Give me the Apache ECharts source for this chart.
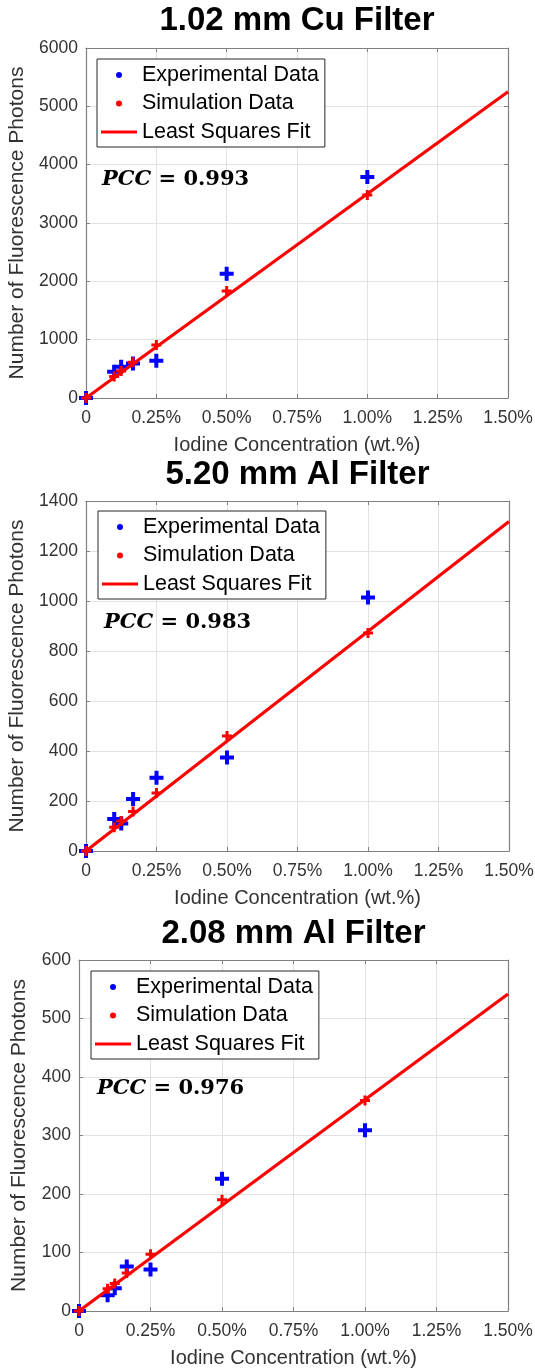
<!DOCTYPE html>
<html>
<head>
<meta charset="utf-8">
<script src="https://cdn.jsdelivr.net/npm/echarts@6/dist/echarts.min.js"></script>
<style>
  html, body { margin: 0; padding: 0; background: #fff; }
  #chart { width: 535px; height: 1369px; }
</style>
</head>
<body>
<div id="chart"></div>
<script>
// Iodine concentrations (wt.%) measured with every filter
const concentration = [0, 0.1, 0.125, 0.167, 0.25, 0.5, 1.0];

// 1.02 mm Cu filter
const cuExperimental = [0, 450, 537, 590, 640, 2130, 3790];
const cuSimulation   = [0, 370, 465, 615, 910, 1835, 3480];
const cuFitEnds      = [0, 5250];

// 5.20 mm Al filter
const al520Experimental = [0, 128, 110, 208, 293, 374, 1014];
const al520Simulation   = [0, 95, 120, 158, 232, 460, 872];
const al520FitEnds      = [0, 1318];

// 2.08 mm Al filter
const al208Experimental = [0, 27, 39, 76, 71, 226, 309];
const al208Simulation   = [0, 38, 47, 65, 97, 190, 360];
const al208FitEnds      = [0, 542];

// fitted line spans the whole x range
const fitRange = [0, 1.5];

const panelTitles = ['1.02 mm Cu Filter', '5.20 mm Al Filter', '2.08 mm Al Filter'];
const pccValues   = ['0.993', '0.983', '0.976'];
const yMaxima     = [6000, 1400, 600];
const ySteps      = [1000, 200, 100];
const xTickLabels = ['0', '0.25%', '0.50%', '0.75%', '1.00%', '1.25%', '1.50%'];
const seriesNames = ['Experimental Data', 'Simulation Data', 'Least Squares Fit'];
const xStep = 0.25;

const panelData = [
  { exp: cuExperimental,    sim: cuSimulation,    fit: cuFitEnds },
  { exp: al520Experimental, sim: al520Simulation, fit: al520FitEnds },
  { exp: al208Experimental, sim: al208Simulation, fit: al208FitEnds }
];

// layout of the three stacked plots
const layout = [
  { grid: { left: 86, top: 48,  width: 422, height: 350 }, legend: { left: 97, top: 59 },  pcc: [102, 180],  titleY: 21 },
  { grid: { left: 86, top: 501, width: 423, height: 350 }, legend: { left: 98, top: 511 }, pcc: [104, 623],  titleY: 475 },
  { grid: { left: 79, top: 960, width: 429, height: 351 }, legend: { left: 91, top: 971 }, pcc: [97, 1089],  titleY: 934 }
];

const AXIS_COLOR = '#808080';
const TEXT_COLOR = '#333333';
const GRID_COLOR = '#e2e2e2';
const SANS = '"Liberation Sans", Arial, Helvetica, sans-serif';
const SERIF = '"DejaVu Serif", "Liberation Serif", serif';

const PLUS_BIG   = 'path://M5,0h4v5h5v4h-5v5h-4v-5h-5v-4h5z';
const PLUS_SMALL = 'path://M3.5,0h3v3.5h3.5v3h-3.5v3.5h-3v-3.5h-3.5v-3h3.5z';
// legend glyphs: a dot for the data sets, a thick bar for the fit
const LEGEND_LINE = 'path://M0,0h12v1h-12z';

const pairs = arr => concentration.map((c, i) => [c, arr[i]]);

const grids = [], xAxes = [], yAxes = [], series = [], legends = [], graphics = [];

layout.forEach((L, p) => {
  grids.push(Object.assign({ containLabel: false, outerBoundsMode: 'none' }, L.grid));
  const yMax = yMaxima[p], yStep = ySteps[p];

  // bottom x axis with labels
  xAxes.push({
    type: 'value', gridIndex: p, min: 0, max: 1.5, interval: xStep,
    position: 'bottom',
    name: 'Iodine Concentration (wt.%)', nameLocation: 'middle', nameGap: 37,
    nameTextStyle: { fontFamily: SANS, fontSize: 20, color: TEXT_COLOR },
    axisLine: { show: true, onZero: false, lineStyle: { color: AXIS_COLOR, width: 1.2 } },
    axisTick: { show: true, inside: true, length: 4, lineStyle: { color: AXIS_COLOR } },
    axisLabel: {
      fontFamily: SANS, fontSize: 17.5, color: TEXT_COLOR, margin: 11,
      formatter: v => xTickLabels[Math.round(v / xStep)]
    },
    splitLine: { show: true, lineStyle: { color: GRID_COLOR, width: 1 } }
  });
  // top x axis closing the box
  xAxes.push({
    type: 'value', gridIndex: p, min: 0, max: 1.5, interval: xStep, position: 'top',
    axisLine: { show: true, onZero: false, lineStyle: { color: AXIS_COLOR, width: 1.2 } },
    axisTick: { show: true, inside: true, length: 4, lineStyle: { color: AXIS_COLOR } },
    axisLabel: { show: false }, splitLine: { show: false }
  });
  // left y axis with labels
  yAxes.push({
    type: 'value', gridIndex: p, min: 0, max: yMax, interval: yStep, position: 'left',
    name: 'Number of Fluorescence Photons', nameLocation: 'middle', nameGap: 49,
    nameTextStyle: { fontFamily: SANS, fontSize: 21, color: TEXT_COLOR },
    axisLine: { show: true, onZero: false, lineStyle: { color: AXIS_COLOR, width: 1.2 } },
    axisTick: { show: true, inside: true, length: 4, lineStyle: { color: AXIS_COLOR } },
    axisLabel: { fontFamily: SANS, fontSize: 17.5, color: TEXT_COLOR, margin: 8, formatter: v => String(v) },
    splitLine: { show: true, lineStyle: { color: GRID_COLOR, width: 1 } }
  });
  // right y axis closing the box
  yAxes.push({
    type: 'value', gridIndex: p, min: 0, max: yMax, interval: yStep, position: 'right',
    axisLine: { show: true, onZero: false, lineStyle: { color: AXIS_COLOR, width: 1.2 } },
    axisTick: { show: true, inside: true, length: 4, lineStyle: { color: AXIS_COLOR } },
    axisLabel: { show: false }, splitLine: { show: false }
  });

  const d = panelData[p];
  const xi = p * 2, yi = p * 2;
  series.push({
    name: seriesNames[0], type: 'scatter', xAxisIndex: xi, yAxisIndex: yi,
    symbol: PLUS_BIG, symbolSize: 14, clip: false,
    itemStyle: { color: '#0000ff', opacity: 1 },
    data: pairs(d.exp), z: 3
  });
  series.push({
    name: seriesNames[1], type: 'scatter', xAxisIndex: xi, yAxisIndex: yi,
    symbol: PLUS_SMALL, symbolSize: 10, clip: false,
    itemStyle: { color: '#ff0000', opacity: 1 },
    data: pairs(d.sim), z: 4
  });
  series.push({
    name: seriesNames[2], type: 'line', xAxisIndex: xi, yAxisIndex: yi,
    symbol: 'none', showSymbol: false, clip: false,
    lineStyle: { color: '#ff0000', width: 3.2 },
    itemStyle: { color: '#ff0000' },
    data: fitRange.map((x, i) => [x, d.fit[i]]), z: 5
  });

  legends.push({
    data: [
      { name: seriesNames[0], icon: 'circle' },
      { name: seriesNames[1], icon: 'circle' },
      { name: seriesNames[2], icon: LEGEND_LINE }
    ],
    orient: 'vertical', left: L.legend.left, top: L.legend.top,
    padding: [5, 6, 4, 4], itemGap: 6.5, itemWidth: 36, itemHeight: 6,
    symbolKeepAspect: true,
    backgroundColor: '#ffffff', borderColor: '#262626', borderWidth: 1, borderRadius: 0,
    selectedMode: false,
    itemStyle: { borderWidth: 0 },
    textStyle: { fontFamily: SANS, fontSize: 21.5, lineHeight: 22, color: '#000000', padding: [0, 0, 0, 0] },
    z: 10
  });

  const cx = L.grid.left + L.grid.width / 2;
  graphics.push({
    type: 'text', x: cx, y: L.titleY, z: 20,
    style: {
      text: panelTitles[p], fontFamily: SANS, fontWeight: 'bold', fontSize: 33,
      fill: '#000000', align: 'center', verticalAlign: 'middle'
    }
  });
  graphics.push({
    type: 'text', x: L.pcc[0], y: L.pcc[1], z: 20,
    style: {
      text: '{i|PCC} = ' + pccValues[p],
      fontFamily: SERIF, fontWeight: 'bold', fontSize: 21, fill: '#000000',
      align: 'left', verticalAlign: 'middle',
      rich: { i: { fontFamily: SERIF, fontWeight: 'bold', fontStyle: 'italic', fontSize: 21, fill: '#000000' } }
    }
  });
});

const chart = echarts.init(document.getElementById('chart'), null, { renderer: 'canvas' });
chart.setOption({
  backgroundColor: '#ffffff',
  animation: false,
  grid: grids,
  xAxis: xAxes,
  yAxis: yAxes,
  legend: legends,
  series: series,
  graphic: graphics
});
</script>
</body>
</html>
